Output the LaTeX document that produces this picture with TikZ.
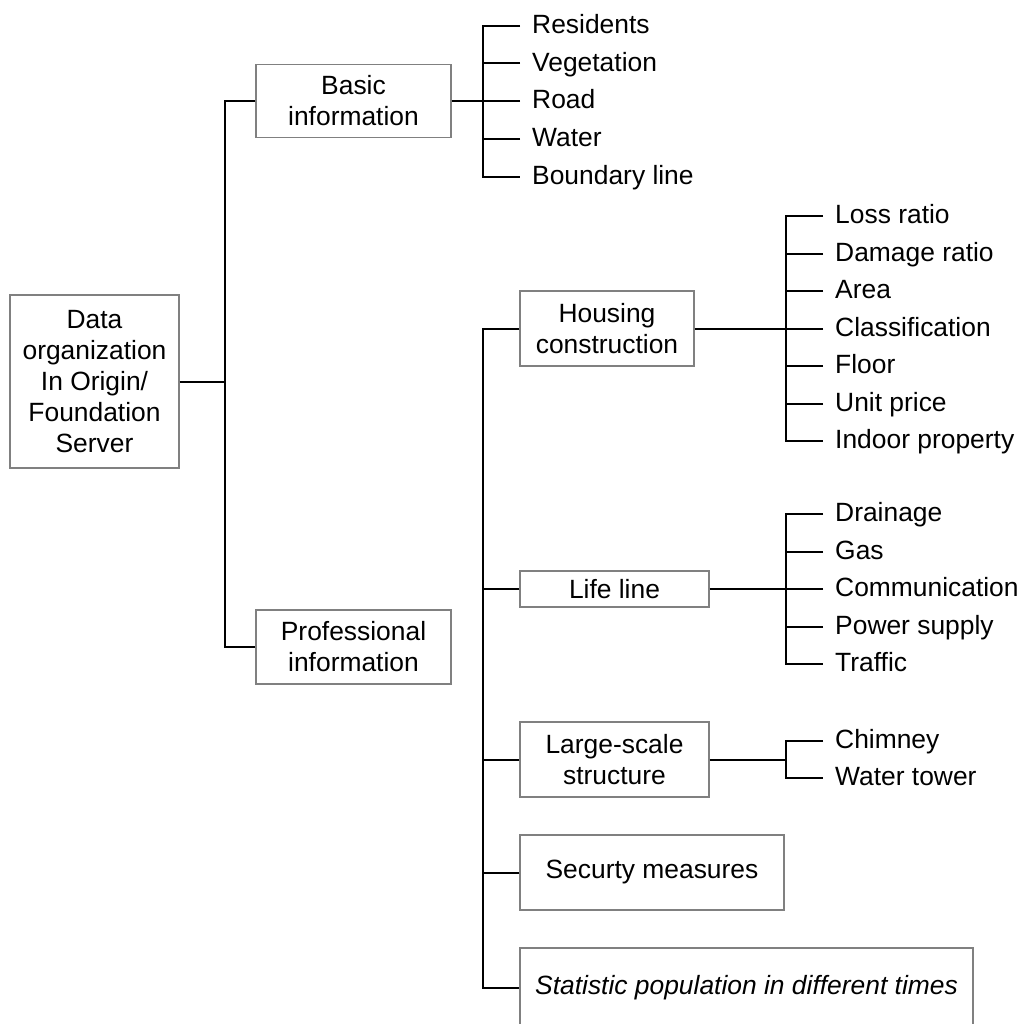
\documentclass[tikz,border=0pt]{standalone}
\usepackage{fontspec}
\setmainfont{Liberation Sans}
\begin{document}
\begin{tikzpicture}[x=1pt,y=-1pt,
  txt/.style={font=\fontsize{26.4}{31}\selectfont},
  box/.style={txt,draw=black!50,line width=1.2pt,align=center,inner sep=0pt},
  leaf/.style={txt,anchor=west,inner xsep=12pt,inner ysep=0pt,text height=19.5pt,text depth=4pt},
  link/.style={line width=2pt,black}]
\useasboundingbox (0,0) rectangle (1024,1023);
\clip (0,0) rectangle (1024,1023);

% boxes
\node[box,minimum width=169pt,minimum height=173pt] (root) at (94.5,381.5)
  {Data\\organization\\In Origin/\\Foundation\\Server};
\node[box,minimum width=195pt,minimum height=73pt] (basic) at (353.5,101) {Basic\\information};
\node[box,minimum width=195pt,minimum height=74pt] (prof) at (353.5,647) {Professional\\information};
\node[box,minimum width=174pt,minimum height=75pt] (house) at (607,328.5) {Housing\\construction};
\node[box,minimum width=189pt,minimum height=36pt] (life) at (614.5,589) {Life line};
\node[box,minimum width=189pt,minimum height=75pt] (large) at (614.5,759.5) {Large-scale\\structure};
\node[box,minimum width=264pt,minimum height=75pt] (secu) at (652,872.5) {Securty measures};
\node[box,minimum width=453pt,minimum height=80pt] (stat) at (746.5,988) {\itshape Statistic population in different times};

% root branching
\coordinate (t1) at (225,381.5);
\draw[link] (root.east) -- (t1);
\draw[link] (basic.west) -| (t1) |- (prof.west);

% basic information leaves
\coordinate (bj) at (483,101);
\foreach \n/\t [count=\i] in {b1/Residents,b2/Vegetation,b3/Road,b4/Water,b5/Boundary line}
  \node[leaf] (\n) at (520,{25.5+37.75*(\i-1)}) {\t};
\draw[link] (basic.east) -- (bj);
\draw[link] (b1.west) -| (bj) |- (b5.west);
\foreach \n in {b2,b3,b4} \draw[link] (\n.west) -- (\n.west -| bj);

% professional trunk
\coordinate (t2) at (483,660);
\draw[link] (house.west) -| (t2) |- (stat.west);
\foreach \n in {life,large,secu} \draw[link] (\n.west) -- (\n.west -| t2);

% housing construction leaves
\coordinate (hj) at (786,328.5);
\foreach \n/\t [count=\i] in {h1/Loss ratio,h2/Damage ratio,h3/Area,h4/Classification,h5/Floor,h6/Unit price,h7/Indoor property}
  \node[leaf] (\n) at (823,{328.5+37.5*(\i-4)}) {\t};
\draw[link] (house.east) -- (hj);
\draw[link] (h1.west) -| (hj) |- (h7.west);
\foreach \n in {h2,h3,h4,h5,h6} \draw[link] (\n.west) -- (\n.west -| hj);

% life line leaves
\coordinate (lj) at (786,589);
\foreach \n/\t [count=\i] in {l1/Drainage,l2/Gas,l3/Communication,l4/Power supply,l5/Traffic}
  \node[leaf] (\n) at (823,{589+37.5*(\i-3)}) {\t};
\draw[link] (life.east) -- (lj);
\draw[link] (l1.west) -| (lj) |- (l5.west);
\foreach \n in {l2,l3,l4} \draw[link] (\n.west) -- (\n.west -| lj);

% large-scale structure leaves
\coordinate (sj) at (786,759.5);
\node[leaf] (s1) at (823,741) {Chimney};
\node[leaf] (s2) at (823,778) {Water tower};
\draw[link] (large.east) -- (sj);
\draw[link] (s1.west) -| (sj) |- (s2.west);
\end{tikzpicture}
\end{document}
